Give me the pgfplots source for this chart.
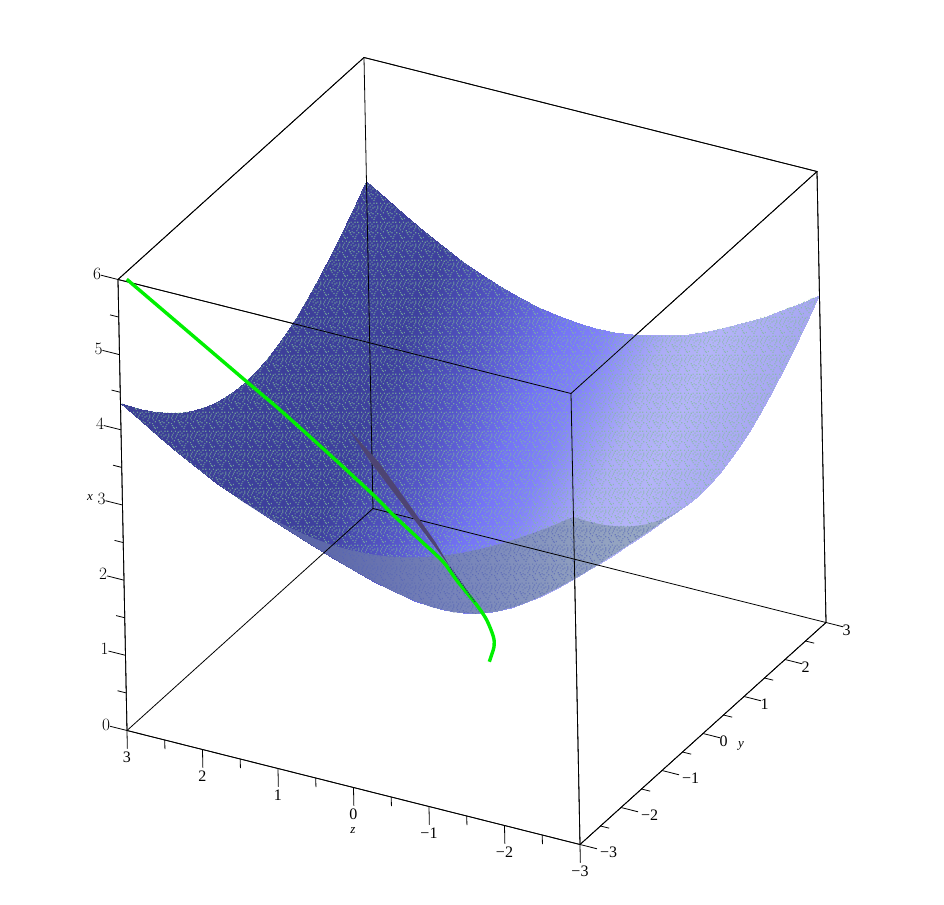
\documentclass[border=0pt]{standalone}
\usepackage{fontspec}
\setmainfont{Liberation Serif}
\usepackage{pgfplots}
\usepackage{pgfplotstable}
\usetikzlibrary{patterns}
\pgfplotsset{compat=1.18}
\def\sp#1#2{\pgfpathrectangle{\pgfqpoint{#1pt}{#2pt}}{\pgfqpoint{1.2pt}{1.2pt}}}
\pgfdeclarepatternformonly{speck}{\pgfpointorigin}{\pgfqpoint{19pt}{19pt}}{\pgfqpoint{19pt}{19pt}}{%
\sp{1}{3}\sp{5}{1}\sp{9}{4}\sp{14}{2}\sp{17}{6}\sp{3}{7}\sp{7}{8}\sp{12}{6}\sp{16}{10}\sp{0}{11}\sp{5}{12}\sp{10}{10}\sp{14}{13}\sp{17}{14}\sp{2}{15}\sp{7}{16}\sp{11}{15}\sp{16}{17}\sp{4}{17}\sp{9}{17}\sp{13}{0}\sp{1}{9}\sp{3}{0}\sp{11}{2}\sp{8}{6}\sp{15}{4}\sp{4}{10}\sp{12}{12}\sp{17}{12}\sp{1}{13}\sp{6}{14}\sp{9}{13}\sp{13}{17}\sp{0}{17}\sp{0}{5}\sp{10}{7}\sp{15}{8}\sp{2}{1}%
\pgfusepath{fill}}
\pgfplotstableread{
a b c
1.45 -3 3.47
1.25 -3 3.4
1 -3 3.317
0.75 -3 3.25
0.5 -3 3.202
0.25 -3 3.172
0 -3 3.162
-0.25 -3 3.172
-0.5 -3 3.202
-0.75 -3 3.25
-1 -3 3.317
-1.25 -3 3.4
-1.5 -3 3.5
-1.75 -3 3.614
-2 -3 3.742
-2.25 -3 3.881
-2.5 -3 4.031
-2.75 -3 4.191
-3 -3 4.359
-3 -2.75 4.191
-3 -2.5 4.031
-3 -2.25 3.881
-3 -2 3.742
-3 -1.75 3.614
-3 -1.5 3.5
-3 -1.25 3.4
-3 -1 3.317
-3 -0.75 3.25
-3 -0.5 3.202
-3 -0.33 3.18
-2.464 -0.323 2.681
-1.889 -0.315 2.161
-1.605 -0.319 1.919
-1.327 -0.333 1.696
-1.057 -0.359 1.499
-0.796 -0.403 1.34
-0.549 -0.475 1.236
-0.321 -0.578 1.198
-0.113 -0.717 1.236
0.078 -0.889 1.34
0.253 -1.087 1.499
0.419 -1.303 1.696
0.577 -1.531 1.919
0.731 -1.77 2.161
1.028 -2.263 2.681
}\outerside
\pgfplotstableread{
a b c
3 -3 4.359
3 -2.75 4.191
3 -2.5 4.031
3 -2.25 3.881
3 -2 3.742
3 -1.75 3.614
3 -1.5 3.5
3 -1.25 3.4
3 -1 3.317
3 -0.75 3.25
3 -0.5 3.202
3 -0.25 3.172
3 0 3.162
3 0.25 3.172
3 0.5 3.202
3 0.75 3.25
3 1 3.317
3 1.25 3.4
3 1.5 3.5
3 1.75 3.614
3 2 3.742
3 2.25 3.881
3 2.5 4.031
3 2.75 4.191
3 3 4.359
2.75 3 4.191
2.5 3 4.031
2.25 3 3.881
2 3 3.742
1.75 3 3.614
1.5 3 3.5
1.25 3 3.4
1 3 3.317
0.75 3 3.25
0.5 3 3.202
0.25 3 3.172
0 3 3.162
-0.25 3 3.172
-0.5 3 3.202
-0.75 3 3.25
-1 3 3.317
-1.25 3 3.4
-1.5 3 3.5
-1.75 3 3.614
-2 3 3.742
-2.25 3 3.881
-2.5 3 4.031
-2.75 3 4.191
-3 3 4.359
-3 2.75 4.191
-3 2.5 4.031
-3 2.25 3.881
-3 2 3.742
-3 1.75 3.614
-3 1.5 3.5
-3 1.25 3.4
-3 1 3.317
-3 0.75 3.25
-3 0.5 3.202
-3 0.25 3.172
-3 0 3.162
-3 -0.33 3.18
-2.464 -0.323 2.681
-1.889 -0.315 2.161
-1.605 -0.319 1.919
-1.327 -0.333 1.696
-1.057 -0.359 1.499
-0.796 -0.403 1.34
-0.549 -0.475 1.236
-0.321 -0.578 1.198
-0.113 -0.717 1.236
0.078 -0.889 1.34
0.253 -1.087 1.499
0.419 -1.303 1.696
0.577 -1.531 1.919
0.731 -1.77 2.161
1.028 -2.263 2.681
1.45 -3 3.47
1.75 -3 3.614
2 -3 3.742
2.25 -3 3.881
2.5 -3 4.031
2.75 -3 4.191
}\outline
\begin{document}
\begin{tikzpicture}
\useasboundingbox (0pt,0pt) rectangle (944pt,-904pt);
\begin{axis}[
  at={(476.5pt,-676.5pt)}, anchor=origin,
  x={(-75.5pt,19pt)}, y={(41pt,37pt)}, z={(-1.5pt,75.17pt)},
  xmin=-3,xmax=3,ymin=-3,ymax=3,zmin=0,zmax=6,
  clip=false, unbounded coords=jump,
  xtick={-3,-2,-1,0,1,2,3}, ytick={-3,-2,-1,0,1,2,3}, ztick={0,1,2,3,4,5,6},
  xticklabels={−3,−2,−1,0,1,2,3},
  yticklabels={\hspace{3.5pt}−3,\hspace{3.5pt}−2,\hspace{3.5pt}−1,0,1,2,3},
  major tick length=0pt, tick style={draw=none},
  tick label style={font=\fontsize{16}{16}\selectfont, inner sep=0pt},
  xticklabel style={anchor=center, xshift=0pt, yshift=-27pt},
  yticklabel style={anchor=west, xshift=16.5pt, yshift=-7.5pt},
  zticklabel style={anchor=center, xshift=-21pt, yshift=6pt},
  axis line style={line width=0.8pt},
  colormap={maple}{rgb255(100pt)=(60,62,150); rgb255(330pt)=(62,64,158); rgb255(410pt)=(85,85,200); rgb255(482pt)=(115,115,245); rgb255(527pt)=(130,130,250); rgb255(594pt)=(172,172,246); rgb255(640pt)=(180,180,248); rgb255(720pt)=(168,168,242); rgb255(820pt)=(160,165,235)},
  point meta min=100, point meta max=820,
]
\addplot3[surf, shader=interp, mesh/rows=25, point meta={557.2-84.18*x+24.1*y-35.85*z}] coordinates {
(-3,-3,4.359)(-2.75,-3,4.191)(-2.5,-3,4.031)(-2.25,-3,3.881)(-2,-3,3.742)(-1.75,-3,3.614)(-1.5,-3,3.5)(-1.25,-3,3.4)(-1,-3,3.317)(-0.75,-3,3.25)(-0.5,-3,3.202)(-0.25,-3,3.172)(0,-3,3.162)(0.25,-3,3.172)(0.5,-3,3.202)(0.75,-3,3.25)(1,-3,3.317)(1.25,-3,3.4)(1.5,-3,3.5)(1.75,-3,3.614)(2,-3,3.742)(2.25,-3,3.881)(2.5,-3,4.031)(2.75,-3,4.191)(3,-3,4.359)
(-3,-2.75,4.191)(-2.75,-2.75,4.016)(-2.5,-2.75,3.849)(-2.25,-2.75,3.691)(-2,-2.75,3.544)(-1.75,-2.75,3.41)(-1.5,-2.75,3.288)(-1.25,-2.75,3.182)(-1,-2.75,3.092)(-0.75,-2.75,3.021)(-0.5,-2.75,2.969)(-0.25,-2.75,2.937)(0,-2.75,2.926)(0.25,-2.75,2.937)(0.5,-2.75,2.969)(0.75,-2.75,3.021)(1,-2.75,3.092)(1.25,-2.75,3.182)(1.5,-2.75,3.288)(1.75,-2.75,3.41)(2,-2.75,3.544)(2.25,-2.75,3.691)(2.5,-2.75,3.849)(2.75,-2.75,4.016)(3,-2.75,4.191)
(-3,-2.5,4.031)(-2.75,-2.5,3.849)(-2.5,-2.5,3.674)(-2.25,-2.5,3.509)(-2,-2.5,3.354)(-1.75,-2.5,3.211)(-1.5,-2.5,3.082)(-1.25,-2.5,2.969)(-1,-2.5,2.872)(-0.75,-2.5,2.795)(-0.5,-2.5,2.739)(-0.25,-2.5,2.704)(0,-2.5,2.693)(0.25,-2.5,2.704)(0.5,-2.5,2.739)(0.75,-2.5,2.795)(1,-2.5,2.872)(1.25,-2.5,2.969)(1.5,-2.5,3.082)(1.75,-2.5,3.211)(2,-2.5,3.354)(2.25,-2.5,3.509)(2.5,-2.5,3.674)(2.75,-2.5,3.849)(3,-2.5,4.031)
(-3,-2.25,3.881)(-2.75,-2.25,3.691)(-2.5,-2.25,3.509)(-2.25,-2.25,3.335)(-2,-2.25,3.172)(-1.75,-2.25,3.021)(-1.5,-2.25,2.883)(-1.25,-2.25,2.761)(-1,-2.25,2.658)(-0.75,-2.25,2.574)(-0.5,-2.25,2.512)(-0.25,-2.25,2.475)(0,-2.25,2.462)(0.25,-2.25,2.475)(0.5,-2.25,2.512)(0.75,-2.25,2.574)(1,-2.25,2.658)(1.25,-2.25,2.761)(1.5,-2.25,2.883)(1.75,-2.25,3.021)(2,-2.25,3.172)(2.25,-2.25,3.335)(2.5,-2.25,3.509)(2.75,-2.25,3.691)(3,-2.25,3.881)
(-3,-2,3.742)(-2.75,-2,3.544)(-2.5,-2,3.354)(-2.25,-2,3.172)(-2,-2,3)(-1.75,-2,2.839)(-1.5,-2,2.693)(-1.25,-2,2.562)(-1,-2,2.449)(-0.75,-2,2.358)(-0.5,-2,2.291)(-0.25,-2,2.25)(0,-2,2.236)(0.25,-2,2.25)(0.5,-2,2.291)(0.75,-2,2.358)(1,-2,2.449)(1.25,-2,2.562)(1.5,-2,2.693)(1.75,-2,2.839)(2,-2,3)(2.25,-2,3.172)(2.5,-2,3.354)(2.75,-2,3.544)(3,-2,3.742)
(-3,-1.75,3.614)(-2.75,-1.75,3.41)(-2.5,-1.75,3.211)(-2.25,-1.75,3.021)(-2,-1.75,2.839)(-1.75,-1.75,2.669)(-1.5,-1.75,2.512)(-1.25,-1.75,2.372)(-1,-1.75,2.25)(-0.75,-1.75,2.151)(-0.5,-1.75,2.077)(-0.25,-1.75,2.031)(0,-1.75,2.016)(0.25,-1.75,2.031)(0.5,-1.75,2.077)(0.75,-1.75,2.151)(1,-1.75,2.25)(1.25,-1.75,2.372)(1.5,-1.75,2.512)(1.75,-1.75,2.669)(2,-1.75,2.839)(2.25,-1.75,3.021)(2.5,-1.75,3.211)(2.75,-1.75,3.41)(3,-1.75,3.614)
(-3,-1.5,3.5)(-2.75,-1.5,3.288)(-2.5,-1.5,3.082)(-2.25,-1.5,2.883)(-2,-1.5,2.693)(-1.75,-1.5,2.512)(-1.5,-1.5,2.345)(-1.25,-1.5,2.194)(-1,-1.5,2.062)(-0.75,-1.5,1.953)(-0.5,-1.5,1.871)(-0.25,-1.5,1.82)(0,-1.5,1.803)(0.25,-1.5,1.82)(0.5,-1.5,1.871)(0.75,-1.5,1.953)(1,-1.5,2.062)(1.25,-1.5,2.194)(1.5,-1.5,2.345)(1.75,-1.5,2.512)(2,-1.5,2.693)(2.25,-1.5,2.883)(2.5,-1.5,3.082)(2.75,-1.5,3.288)(3,-1.5,3.5)
(-3,-1.25,3.4)(-2.75,-1.25,3.182)(-2.5,-1.25,2.969)(-2.25,-1.25,2.761)(-2,-1.25,2.562)(-1.75,-1.25,2.372)(-1.5,-1.25,2.194)(-1.25,-1.25,2.031)(-1,-1.25,1.887)(-0.75,-1.25,1.768)(-0.5,-1.25,1.677)(-0.25,-1.25,1.62)(0,-1.25,1.601)(0.25,-1.25,1.62)(0.5,-1.25,1.677)(0.75,-1.25,1.768)(1,-1.25,1.887)(1.25,-1.25,2.031)(1.5,-1.25,2.194)(1.75,-1.25,2.372)(2,-1.25,2.562)(2.25,-1.25,2.761)(2.5,-1.25,2.969)(2.75,-1.25,3.182)(3,-1.25,3.4)
(-3,-1,3.317)(-2.75,-1,3.092)(-2.5,-1,2.872)(-2.25,-1,2.658)(-2,-1,2.449)(-1.75,-1,2.25)(-1.5,-1,2.062)(-1.25,-1,1.887)(-1,-1,1.732)(-0.75,-1,1.601)(-0.5,-1,1.5)(-0.25,-1,1.436)(0,-1,1.414)(0.25,-1,1.436)(0.5,-1,1.5)(0.75,-1,1.601)(1,-1,1.732)(1.25,-1,1.887)(1.5,-1,2.062)(1.75,-1,2.25)(2,-1,2.449)(2.25,-1,2.658)(2.5,-1,2.872)(2.75,-1,3.092)(3,-1,3.317)
(-3,-0.75,3.25)(-2.75,-0.75,3.021)(-2.5,-0.75,2.795)(-2.25,-0.75,2.574)(-2,-0.75,2.358)(-1.75,-0.75,2.151)(-1.5,-0.75,1.953)(-1.25,-0.75,1.768)(-1,-0.75,1.601)(-0.75,-0.75,1.458)(-0.5,-0.75,1.346)(-0.25,-0.75,1.275)(0,-0.75,1.25)(0.25,-0.75,1.275)(0.5,-0.75,1.346)(0.75,-0.75,1.458)(1,-0.75,1.601)(1.25,-0.75,1.768)(1.5,-0.75,1.953)(1.75,-0.75,2.151)(2,-0.75,2.358)(2.25,-0.75,2.574)(2.5,-0.75,2.795)(2.75,-0.75,3.021)(3,-0.75,3.25)
(-3,-0.5,3.202)(-2.75,-0.5,2.969)(-2.5,-0.5,2.739)(-2.25,-0.5,2.512)(-2,-0.5,2.291)(-1.75,-0.5,2.077)(-1.5,-0.5,1.871)(-1.25,-0.5,1.677)(-1,-0.5,1.5)(-0.75,-0.5,1.346)(-0.5,-0.5,1.225)(-0.25,-0.5,1.146)(0,-0.5,1.118)(0.25,-0.5,1.146)(0.5,-0.5,1.225)(0.75,-0.5,1.346)(1,-0.5,1.5)(1.25,-0.5,1.677)(1.5,-0.5,1.871)(1.75,-0.5,2.077)(2,-0.5,2.291)(2.25,-0.5,2.512)(2.5,-0.5,2.739)(2.75,-0.5,2.969)(3,-0.5,3.202)
(-3,-0.25,3.172)(-2.75,-0.25,2.937)(-2.5,-0.25,2.704)(-2.25,-0.25,2.475)(-2,-0.25,2.25)(-1.75,-0.25,2.031)(-1.5,-0.25,1.82)(-1.25,-0.25,1.62)(-1,-0.25,1.436)(-0.75,-0.25,1.275)(-0.5,-0.25,1.146)(-0.25,-0.25,1.061)(0,-0.25,1.031)(0.25,-0.25,1.061)(0.5,-0.25,1.146)(0.75,-0.25,1.275)(1,-0.25,1.436)(1.25,-0.25,1.62)(1.5,-0.25,1.82)(1.75,-0.25,2.031)(2,-0.25,2.25)(2.25,-0.25,2.475)(2.5,-0.25,2.704)(2.75,-0.25,2.937)(3,-0.25,3.172)
(-3,0,3.162)(-2.75,0,2.926)(-2.5,0,2.693)(-2.25,0,2.462)(-2,0,2.236)(-1.75,0,2.016)(-1.5,0,1.803)(-1.25,0,1.601)(-1,0,1.414)(-0.75,0,1.25)(-0.5,0,1.118)(-0.25,0,1.031)(0,0,1)(0.25,0,1.031)(0.5,0,1.118)(0.75,0,1.25)(1,0,1.414)(1.25,0,1.601)(1.5,0,1.803)(1.75,0,2.016)(2,0,2.236)(2.25,0,2.462)(2.5,0,2.693)(2.75,0,2.926)(3,0,3.162)
(-3,0.25,3.172)(-2.75,0.25,2.937)(-2.5,0.25,2.704)(-2.25,0.25,2.475)(-2,0.25,2.25)(-1.75,0.25,2.031)(-1.5,0.25,1.82)(-1.25,0.25,1.62)(-1,0.25,1.436)(-0.75,0.25,1.275)(-0.5,0.25,1.146)(-0.25,0.25,1.061)(0,0.25,1.031)(0.25,0.25,1.061)(0.5,0.25,1.146)(0.75,0.25,1.275)(1,0.25,1.436)(1.25,0.25,1.62)(1.5,0.25,1.82)(1.75,0.25,2.031)(2,0.25,2.25)(2.25,0.25,2.475)(2.5,0.25,2.704)(2.75,0.25,2.937)(3,0.25,3.172)
(-3,0.5,3.202)(-2.75,0.5,2.969)(-2.5,0.5,2.739)(-2.25,0.5,2.512)(-2,0.5,2.291)(-1.75,0.5,2.077)(-1.5,0.5,1.871)(-1.25,0.5,1.677)(-1,0.5,1.5)(-0.75,0.5,1.346)(-0.5,0.5,1.225)(-0.25,0.5,1.146)(0,0.5,1.118)(0.25,0.5,1.146)(0.5,0.5,1.225)(0.75,0.5,1.346)(1,0.5,1.5)(1.25,0.5,1.677)(1.5,0.5,1.871)(1.75,0.5,2.077)(2,0.5,2.291)(2.25,0.5,2.512)(2.5,0.5,2.739)(2.75,0.5,2.969)(3,0.5,3.202)
(-3,0.75,3.25)(-2.75,0.75,3.021)(-2.5,0.75,2.795)(-2.25,0.75,2.574)(-2,0.75,2.358)(-1.75,0.75,2.151)(-1.5,0.75,1.953)(-1.25,0.75,1.768)(-1,0.75,1.601)(-0.75,0.75,1.458)(-0.5,0.75,1.346)(-0.25,0.75,1.275)(0,0.75,1.25)(0.25,0.75,1.275)(0.5,0.75,1.346)(0.75,0.75,1.458)(1,0.75,1.601)(1.25,0.75,1.768)(1.5,0.75,1.953)(1.75,0.75,2.151)(2,0.75,2.358)(2.25,0.75,2.574)(2.5,0.75,2.795)(2.75,0.75,3.021)(3,0.75,3.25)
(-3,1,3.317)(-2.75,1,3.092)(-2.5,1,2.872)(-2.25,1,2.658)(-2,1,2.449)(-1.75,1,2.25)(-1.5,1,2.062)(-1.25,1,1.887)(-1,1,1.732)(-0.75,1,1.601)(-0.5,1,1.5)(-0.25,1,1.436)(0,1,1.414)(0.25,1,1.436)(0.5,1,1.5)(0.75,1,1.601)(1,1,1.732)(1.25,1,1.887)(1.5,1,2.062)(1.75,1,2.25)(2,1,2.449)(2.25,1,2.658)(2.5,1,2.872)(2.75,1,3.092)(3,1,3.317)
(-3,1.25,3.4)(-2.75,1.25,3.182)(-2.5,1.25,2.969)(-2.25,1.25,2.761)(-2,1.25,2.562)(-1.75,1.25,2.372)(-1.5,1.25,2.194)(-1.25,1.25,2.031)(-1,1.25,1.887)(-0.75,1.25,1.768)(-0.5,1.25,1.677)(-0.25,1.25,1.62)(0,1.25,1.601)(0.25,1.25,1.62)(0.5,1.25,1.677)(0.75,1.25,1.768)(1,1.25,1.887)(1.25,1.25,2.031)(1.5,1.25,2.194)(1.75,1.25,2.372)(2,1.25,2.562)(2.25,1.25,2.761)(2.5,1.25,2.969)(2.75,1.25,3.182)(3,1.25,3.4)
(-3,1.5,3.5)(-2.75,1.5,3.288)(-2.5,1.5,3.082)(-2.25,1.5,2.883)(-2,1.5,2.693)(-1.75,1.5,2.512)(-1.5,1.5,2.345)(-1.25,1.5,2.194)(-1,1.5,2.062)(-0.75,1.5,1.953)(-0.5,1.5,1.871)(-0.25,1.5,1.82)(0,1.5,1.803)(0.25,1.5,1.82)(0.5,1.5,1.871)(0.75,1.5,1.953)(1,1.5,2.062)(1.25,1.5,2.194)(1.5,1.5,2.345)(1.75,1.5,2.512)(2,1.5,2.693)(2.25,1.5,2.883)(2.5,1.5,3.082)(2.75,1.5,3.288)(3,1.5,3.5)
(-3,1.75,3.614)(-2.75,1.75,3.41)(-2.5,1.75,3.211)(-2.25,1.75,3.021)(-2,1.75,2.839)(-1.75,1.75,2.669)(-1.5,1.75,2.512)(-1.25,1.75,2.372)(-1,1.75,2.25)(-0.75,1.75,2.151)(-0.5,1.75,2.077)(-0.25,1.75,2.031)(0,1.75,2.016)(0.25,1.75,2.031)(0.5,1.75,2.077)(0.75,1.75,2.151)(1,1.75,2.25)(1.25,1.75,2.372)(1.5,1.75,2.512)(1.75,1.75,2.669)(2,1.75,2.839)(2.25,1.75,3.021)(2.5,1.75,3.211)(2.75,1.75,3.41)(3,1.75,3.614)
(-3,2,3.742)(-2.75,2,3.544)(-2.5,2,3.354)(-2.25,2,3.172)(-2,2,3)(-1.75,2,2.839)(-1.5,2,2.693)(-1.25,2,2.562)(-1,2,2.449)(-0.75,2,2.358)(-0.5,2,2.291)(-0.25,2,2.25)(0,2,2.236)(0.25,2,2.25)(0.5,2,2.291)(0.75,2,2.358)(1,2,2.449)(1.25,2,2.562)(1.5,2,2.693)(1.75,2,2.839)(2,2,3)(2.25,2,3.172)(2.5,2,3.354)(2.75,2,3.544)(3,2,3.742)
(-3,2.25,3.881)(-2.75,2.25,3.691)(-2.5,2.25,3.509)(-2.25,2.25,3.335)(-2,2.25,3.172)(-1.75,2.25,3.021)(-1.5,2.25,2.883)(-1.25,2.25,2.761)(-1,2.25,2.658)(-0.75,2.25,2.574)(-0.5,2.25,2.512)(-0.25,2.25,2.475)(0,2.25,2.462)(0.25,2.25,2.475)(0.5,2.25,2.512)(0.75,2.25,2.574)(1,2.25,2.658)(1.25,2.25,2.761)(1.5,2.25,2.883)(1.75,2.25,3.021)(2,2.25,3.172)(2.25,2.25,3.335)(2.5,2.25,3.509)(2.75,2.25,3.691)(3,2.25,3.881)
(-3,2.5,4.031)(-2.75,2.5,3.849)(-2.5,2.5,3.674)(-2.25,2.5,3.509)(-2,2.5,3.354)(-1.75,2.5,3.211)(-1.5,2.5,3.082)(-1.25,2.5,2.969)(-1,2.5,2.872)(-0.75,2.5,2.795)(-0.5,2.5,2.739)(-0.25,2.5,2.704)(0,2.5,2.693)(0.25,2.5,2.704)(0.5,2.5,2.739)(0.75,2.5,2.795)(1,2.5,2.872)(1.25,2.5,2.969)(1.5,2.5,3.082)(1.75,2.5,3.211)(2,2.5,3.354)(2.25,2.5,3.509)(2.5,2.5,3.674)(2.75,2.5,3.849)(3,2.5,4.031)
(-3,2.75,4.191)(-2.75,2.75,4.016)(-2.5,2.75,3.849)(-2.25,2.75,3.691)(-2,2.75,3.544)(-1.75,2.75,3.41)(-1.5,2.75,3.288)(-1.25,2.75,3.182)(-1,2.75,3.092)(-0.75,2.75,3.021)(-0.5,2.75,2.969)(-0.25,2.75,2.937)(0,2.75,2.926)(0.25,2.75,2.937)(0.5,2.75,2.969)(0.75,2.75,3.021)(1,2.75,3.092)(1.25,2.75,3.182)(1.5,2.75,3.288)(1.75,2.75,3.41)(2,2.75,3.544)(2.25,2.75,3.691)(2.5,2.75,3.849)(2.75,2.75,4.016)(3,2.75,4.191)
(-3,3,4.359)(-2.75,3,4.191)(-2.5,3,4.031)(-2.25,3,3.881)(-2,3,3.742)(-1.75,3,3.614)(-1.5,3,3.5)(-1.25,3,3.4)(-1,3,3.317)(-0.75,3,3.25)(-0.5,3,3.202)(-0.25,3,3.172)(0,3,3.162)(0.25,3,3.172)(0.5,3,3.202)(0.75,3,3.25)(1,3,3.317)(1.25,3,3.4)(1.5,3,3.5)(1.75,3,3.614)(2,3,3.742)(2.25,3,3.881)(2.5,3,4.031)(2.75,3,4.191)(3,3,4.359)
};
% speckle over the whole surface outline
\addplot3[draw=none, pattern=speck, pattern color={rgb,255:red,129;green,189;blue,153}, fill opacity=0.75] table[x=a,y=b,z=c] {\outline} --cycle;
% outer side of the bowl, seen from below
\addplot3[draw=none, left color={rgb,255:red,85;green,95;blue,165}, middle color={rgb,255:red,118;green,136;blue,178}, right color={rgb,255:red,155;green,175;blue,190}, opacity=0.88] table[x=a,y=b,z=c] {\outerside} --cycle;
\addplot3[draw=none, pattern=speck, pattern color={rgb,255:red,80;green,90;blue,190}, fill opacity=0.6] table[x=a,y=b,z=c] {\outerside} --cycle;
% box
\addplot3[black, line width=0.8pt, forget plot] coordinates {(3,-3,0)(-3,-3,0)(-3,3,0)(3,3,0)(3,-3,0)};
\addplot3[black, line width=0.8pt, forget plot] coordinates {(3,-3,6)(-3,-3,6)(-3,3,6)(3,3,6)(3,-3,6)};
\addplot3[black, line width=0.8pt, forget plot] coordinates {(3,-3,0)(3,-3,6)};
\addplot3[black, line width=0.8pt, forget plot] coordinates {(-3,-3,0)(-3,-3,6)};
\addplot3[black, line width=0.8pt, forget plot] coordinates {(-3,3,0)(-3,3,6)};
\addplot3[black, line width=0.8pt, forget plot] coordinates {(3,3,0)(3,3,6)};
% ticks
\addplot3[black, line width=0.8pt, forget plot] coordinates {
(3,-3,0)(3.225,-3,0)(nan,nan,nan)(3,-3,0.5)(3.115,-3,0.5)(nan,nan,nan)(3,-3,1)(3.225,-3,1)(nan,nan,nan)(3,-3,1.5)(3.115,-3,1.5)(nan,nan,nan)(3,-3,2)(3.225,-3,2)(nan,nan,nan)(3,-3,2.5)(3.115,-3,2.5)(nan,nan,nan)(3,-3,3)(3.225,-3,3)(nan,nan,nan)(3,-3,3.5)(3.115,-3,3.5)(nan,nan,nan)(3,-3,4)(3.225,-3,4)(nan,nan,nan)(3,-3,4.5)(3.115,-3,4.5)(nan,nan,nan)(3,-3,5)(3.225,-3,5)(nan,nan,nan)(3,-3,5.5)(3.115,-3,5.5)(nan,nan,nan)(3,-3,6)(3.225,-3,6)
};
\addplot3[black, line width=0.8pt, forget plot] coordinates {
(3,-3,0)(3,-3,-0.24)(nan,nan,nan)(2.5,-3,0)(2.5,-3,-0.12)(nan,nan,nan)(2,-3,0)(2,-3,-0.24)(nan,nan,nan)(1.5,-3,0)(1.5,-3,-0.12)(nan,nan,nan)(1,-3,0)(1,-3,-0.24)(nan,nan,nan)(0.5,-3,0)(0.5,-3,-0.12)(nan,nan,nan)(0,-3,0)(0,-3,-0.24)(nan,nan,nan)(-0.5,-3,0)(-0.5,-3,-0.12)(nan,nan,nan)(-1,-3,0)(-1,-3,-0.24)(nan,nan,nan)(-1.5,-3,0)(-1.5,-3,-0.12)(nan,nan,nan)(-2,-3,0)(-2,-3,-0.24)(nan,nan,nan)(-2.5,-3,0)(-2.5,-3,-0.12)(nan,nan,nan)(-3,-3,0)(-3,-3,-0.24)
};
\addplot3[black, line width=0.8pt, forget plot] coordinates {
(-3,-3,0)(-3.225,-3,0)(nan,nan,nan)(-3,-2.5,0)(-3.115,-2.5,0)(nan,nan,nan)(-3,-2,0)(-3.225,-2,0)(nan,nan,nan)(-3,-1.5,0)(-3.115,-1.5,0)(nan,nan,nan)(-3,-1,0)(-3.225,-1,0)(nan,nan,nan)(-3,-0.5,0)(-3.115,-0.5,0)(nan,nan,nan)(-3,0,0)(-3.225,0,0)(nan,nan,nan)(-3,0.5,0)(-3.115,0.5,0)(nan,nan,nan)(-3,1,0)(-3.225,1,0)(nan,nan,nan)(-3,1.5,0)(-3.115,1.5,0)(nan,nan,nan)(-3,2,0)(-3.225,2,0)(nan,nan,nan)(-3,2.5,0)(-3.115,2.5,0)(nan,nan,nan)(-3,3,0)(-3.225,3,0)
};
% dark spindle
\addplot3[draw=none, fill={rgb,255:red,78;green,68;blue,115}] coordinates {
(1.052,-1.052,3.546)(0.802,-0.802,3.047)(0.515,-0.515,2.339)(0.324,-0.324,1.853)(0.208,-0.208,1.508)(0.358,-0.358,1.861)(0.567,-0.567,2.351)(0.87,-0.87,3.063)
} --cycle;
% green curve
\addplot3[smooth, color={rgb,255:red,0;green,240;blue,0}, line width=3.4pt] coordinates {
(2.925,-2.925,5.985)(1.916,-1.916,4.381)(1.635,-1.635,3.937)(1.215,-1.215,3.238)(0.851,-0.851,2.618)(0.684,-0.684,2.312)(0.46,-0.46,1.926)(0.267,-0.267,1.592)(0.153,-0.153,1.317)(-0.014,0.014,0.948)(-0.097,0.097,0.728)(-0.151,0.151,0.494)(-0.155,0.155,0.359)(-0.112,0.112,0.17)
};
\addplot3[densely dotted, color={rgb,255:red,50;green,50;blue,110}, line width=1.2pt] coordinates {(0.208,-0.208,1.508)(0,0,0.991)};
\end{axis}
\node[font=\fontsize{13}{13}\selectfont\itshape] at (90pt,-498pt) {x};
\node[font=\fontsize{13}{13}\selectfont\itshape] at (353pt,-831pt) {z};
\node[font=\fontsize{13}{13}\selectfont\itshape] at (741pt,-746pt) {y};
\end{tikzpicture}
\end{document}
